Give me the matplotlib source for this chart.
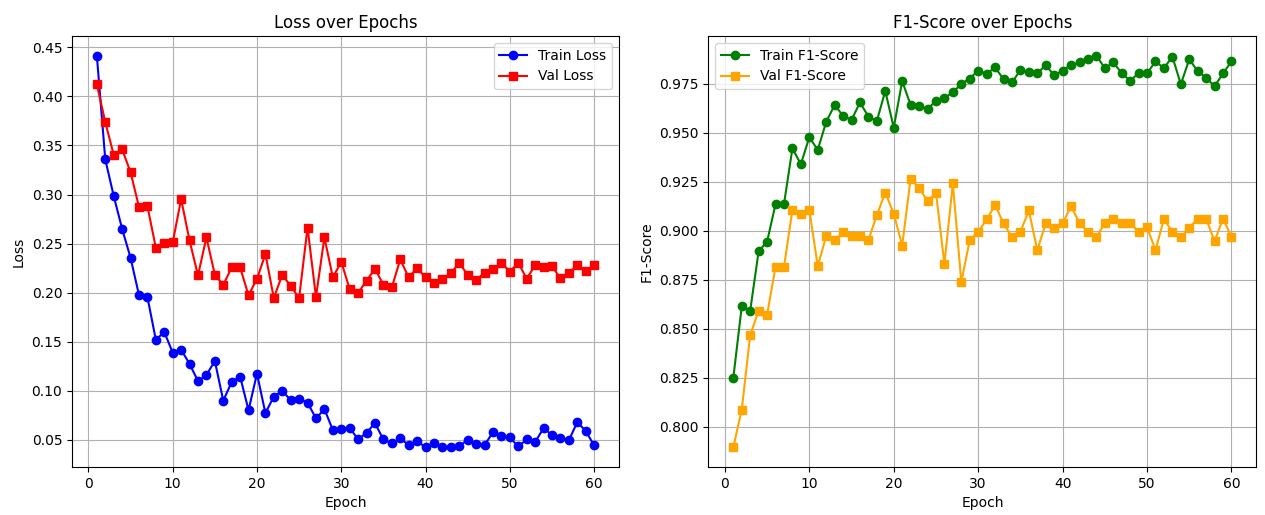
import matplotlib
matplotlib.use("Agg")
import matplotlib.pyplot as plt

epochs = list(range(1, 61))

train_loss = [
    0.4415, 0.3358, 0.2986, 0.265, 0.2356, 0.1976, 0.1956, 0.152, 0.160, 0.139,
    0.142, 0.1275, 0.110, 0.116, 0.1305, 0.090, 0.109, 0.1146, 0.0803, 0.1176,
    0.0773, 0.0942, 0.100, 0.0906, 0.0918, 0.088, 0.0719, 0.0815, 0.060, 0.0614,
    0.0624, 0.0505, 0.0573, 0.0671, 0.0505, 0.0464, 0.0518, 0.0447, 0.049, 0.0424,
    0.0468, 0.0424, 0.043, 0.0437, 0.0502, 0.0458, 0.0447, 0.058, 0.054, 0.0525,
    0.0434, 0.0505, 0.0478, 0.062, 0.0552, 0.0522, 0.0495, 0.0681, 0.0593, 0.0444,
]
val_loss = [
    0.4122, 0.3738, 0.3405, 0.3459, 0.3228, 0.2873, 0.2881, 0.2458, 0.2502, 0.2512,
    0.2953, 0.2532, 0.2176, 0.2563, 0.2183, 0.2078, 0.2258, 0.2258, 0.1973, 0.2142,
    0.2393, 0.1946, 0.2183, 0.2068, 0.1946, 0.2664, 0.1956, 0.2563, 0.2156, 0.2315,
    0.2037, 0.2000, 0.2122, 0.2244, 0.2081, 0.2054, 0.2339, 0.2156, 0.2251, 0.2156,
    0.2102, 0.2136, 0.2197, 0.2305, 0.218, 0.2132, 0.22, 0.2237, 0.2305, 0.2214,
    0.2305, 0.2143, 0.2278, 0.2261, 0.2271, 0.2146, 0.2197, 0.2281, 0.222, 0.2281,
]
train_f1 = [
    0.825, 0.8614, 0.8593, 0.8896, 0.8945, 0.9136, 0.9136, 0.9421, 0.934, 0.9478,
    0.9413, 0.9556, 0.9642, 0.9587, 0.9566, 0.9655, 0.9583, 0.9561, 0.9714, 0.9526,
    0.9764, 0.9642, 0.9635, 0.9624, 0.9661, 0.9679, 0.9706, 0.975, 0.9777, 0.9818,
    0.9801, 0.9834, 0.9774, 0.9757, 0.982, 0.981, 0.9803, 0.9846, 0.9793, 0.9818,
    0.9847, 0.9859, 0.9877, 0.9894, 0.983, 0.9859, 0.9805, 0.9765, 0.9805, 0.9803,
    0.9865, 0.983, 0.9889, 0.9748, 0.9875, 0.9815, 0.9781, 0.9738, 0.9803, 0.9865,
]
val_f1 = [
    0.7895, 0.8088, 0.8468, 0.8592, 0.8571, 0.8817, 0.8814, 0.9108, 0.9088, 0.9108,
    0.882, 0.8973, 0.8953, 0.8993, 0.8973, 0.8973, 0.8953, 0.9081, 0.9195, 0.9088,
    0.8925, 0.9267, 0.9219, 0.9152, 0.9195, 0.8832, 0.9242, 0.8739, 0.8952, 0.8995,
    0.9058, 0.9131, 0.9039, 0.8968, 0.8995, 0.9104, 0.8901, 0.9039, 0.9015, 0.9039,
    0.9126, 0.9039, 0.8995, 0.8968, 0.9039, 0.9063, 0.9039, 0.9039, 0.8995, 0.9019,
    0.8901, 0.906, 0.8995, 0.8968, 0.9017, 0.9061, 0.9061, 0.8947, 0.9063, 0.8968,
]

fig = plt.figure(figsize=(12.65, 5.15), dpi=100)
ax1 = fig.add_axes([0.0569, 0.0932, 0.4324, 0.8368])
ax2 = fig.add_axes([0.5600, 0.0932, 0.4332, 0.8368])

ax1.plot(epochs, train_loss, marker="o", color="blue", label="Train Loss")
ax1.plot(epochs, val_loss, marker="s", color="red", label="Val Loss")
ax1.set_title("Loss over Epochs")
ax1.set_xlabel("Epoch")
ax1.set_ylabel("Loss")
ax1.legend()
ax1.grid(True)

ax2.plot(epochs, train_f1, marker="o", color="green", label="Train F1-Score")
ax2.plot(epochs, val_f1, marker="s", color="orange", label="Val F1-Score")
ax2.set_title("F1-Score over Epochs")
ax2.set_xlabel("Epoch")
ax2.set_ylabel("F1-Score")
ax2.legend()
ax2.grid(True)

fig.savefig("out.png", dpi=100)
